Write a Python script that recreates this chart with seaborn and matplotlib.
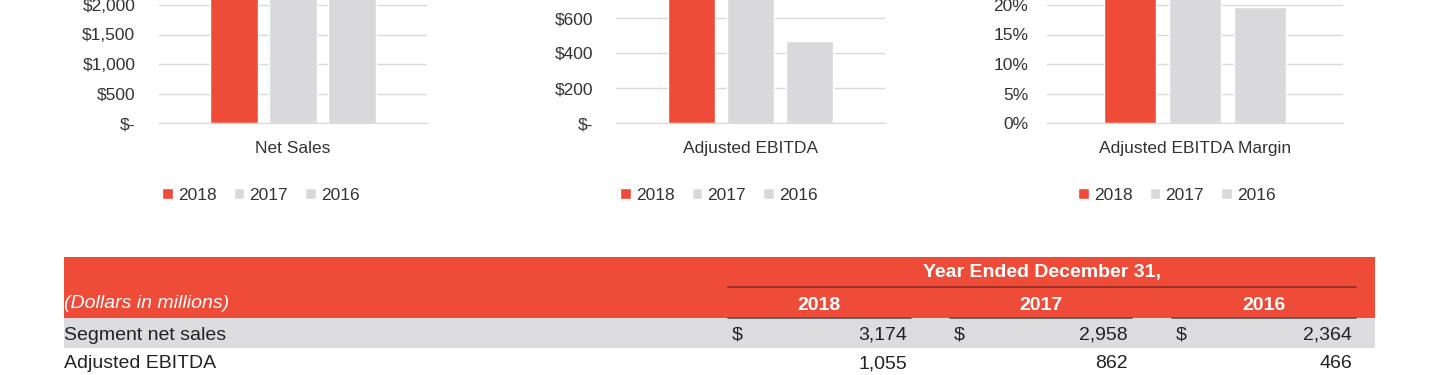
import matplotlib
matplotlib.use("Agg")
import matplotlib.pyplot as plt
import pandas as pd
import seaborn as sns
from matplotlib import font_manager
from matplotlib.ticker import FuncFormatter, MultipleLocator

# data
years = ["2018", "2017", "2016"]
net_sales = [3174, 2958, 2364]
adj_ebitda = [1055, 862, 466]
ebitda_margin = [0.332, 0.291, 0.197]
row_labels = ["Segment net sales", "Adjusted EBITDA"]
net_sales_txt = ["3,174", "2,958", "2,364"]
adj_ebitda_txt = ["1,055", "862", "466"]

red = "#ee4b38"
grey = "#d9d9db"

sns.set_style("white")
names = {f.name for f in font_manager.fontManager.ttflist}
font = "Liberation Sans Narrow" if "Liberation Sans Narrow" in names else "Liberation Sans"
plt.rcParams["font.family"] = [font, "DejaVu Sans"]

W, H = 1440, 375
fig = plt.figure(figsize=(14.4, 3.75), dpi=100)


def px_axes(x0, x1, y_bottom, height):
    # pixel box -> figure fraction (axes may run past the top edge, the page is cropped)
    return fig.add_axes([x0 / W, 1 - y_bottom / H, (x1 - x0) / W, height / H])


# name, values, x-span, ymax, step, last visible tick, axes height px, label pad, format, legend centre
charts = [
    ("Net Sales", net_sales, (159, 427), 3500, 500, 2000, 206.5, 17,
     lambda v, p: "$-" if v == 0 else f"${v:,.0f}", 261),
    ("Adjusted EBITDA", adj_ebitda, (616, 885), 1200, 200, 600, 210, 16.5,
     lambda v, p: "$-" if v == 0 else f"${v:,.0f}", 719),
    ("Adjusted EBITDA Margin", ebitda_margin, (1047, 1343), 0.35, 0.05, 0.20, 206.5, 13.5,
     lambda v, p: f"{v * 100:.0f}%", 1177),
]

for name, vals, (x0, x1), ymax, step, top_tick, hpx, pad, fmt, leg_x in charts:
    ax = px_axes(x0, x1, 123, hpx)
    df = pd.DataFrame({"metric": name, "year": years, "value": vals})
    sns.barplot(data=df, x="metric", y="value", hue="year", hue_order=years,
                palette=[red, grey, grey], saturation=1, width=0.66, gap=0.2,
                ax=ax)
    ax.set_xlim(-0.5, 0.5)
    ax.set_ylim(0, ymax)
    # ticks above the crop line are off the page anyway
    n = int(round(top_tick / step))
    ax.set_yticks([i * step for i in range(n + 1)])
    ax.yaxis.set_major_formatter(FuncFormatter(fmt))
    ax.yaxis.grid(True, color="#d9d9d9", lw=1.0)
    ax.set_axisbelow(True)
    for s in ["top", "right", "left"]:
        ax.spines[s].set_visible(False)
    ax.spines["bottom"].set_color("#d9d9d9")
    ax.tick_params(axis="y", length=0, pad=pad, labelsize=12.5, labelcolor="#333333")
    ax.tick_params(axis="x", length=0, pad=13, labelsize=12.5, labelcolor="#333333")
    ax.set_xlabel("")
    ax.set_ylabel("")
    handles, labels = ax.get_legend_handles_labels()
    ax.legend(handles, labels, loc="center", ncol=3, frameon=False,
              bbox_to_anchor=(leg_x / W, 1 - 195 / H), bbox_transform=fig.transFigure,
              fontsize=12.5, handlelength=0.6, handleheight=0.6, handletextpad=0.3,
              columnspacing=1.0, labelcolor="#333333")

# table below the charts
tab = fig.add_axes([0, 0, 1, 1])
tab.set_xlim(0, W)
tab.set_ylim(H, 0)
tab.axis("off")

tab.add_patch(plt.Rectangle((64, 257), 1311, 61, color=red, lw=0))
tab.add_patch(plt.Rectangle((64, 318), 1311, 30, color="#dcdcde", lw=0))
tab.plot([728, 1356], [287, 287], color="#8c2b21", lw=1.2)

tab.text(1042, 273, "Year Ended December 31,", color="white", fontsize=14,
         fontweight="bold", ha="center", va="center")
tab.text(64, 303, "(Dollars in millions)", color="white", fontsize=14,
         style="italic", ha="left", va="center")

col_left = [728, 950, 1172]
col_right = [911, 1132, 1356]
for i, y in enumerate(years):
    tab.text((col_left[i] + col_right[i]) / 2, 305, y, color="white", fontsize=14,
             fontweight="bold", ha="center", va="center")
    tab.plot([col_left[i], col_right[i]], [318, 318], color="#555555", lw=1.2)
    tab.text(col_left[i] + 4, 335, "$", color="#222222", fontsize=14, ha="left", va="center")
    tab.text(col_right[i] - 4, 335, net_sales_txt[i], color="#222222", fontsize=14,
             ha="right", va="center")
    tab.text(col_right[i] - 4, 364, adj_ebitda_txt[i], color="#222222", fontsize=14,
             ha="right", va="center")

tab.text(64, 335, row_labels[0], color="#222222", fontsize=14, ha="left", va="center")
tab.text(64, 364, row_labels[1], color="#222222", fontsize=14, ha="left", va="center")

fig.savefig("out.png", dpi=100)
